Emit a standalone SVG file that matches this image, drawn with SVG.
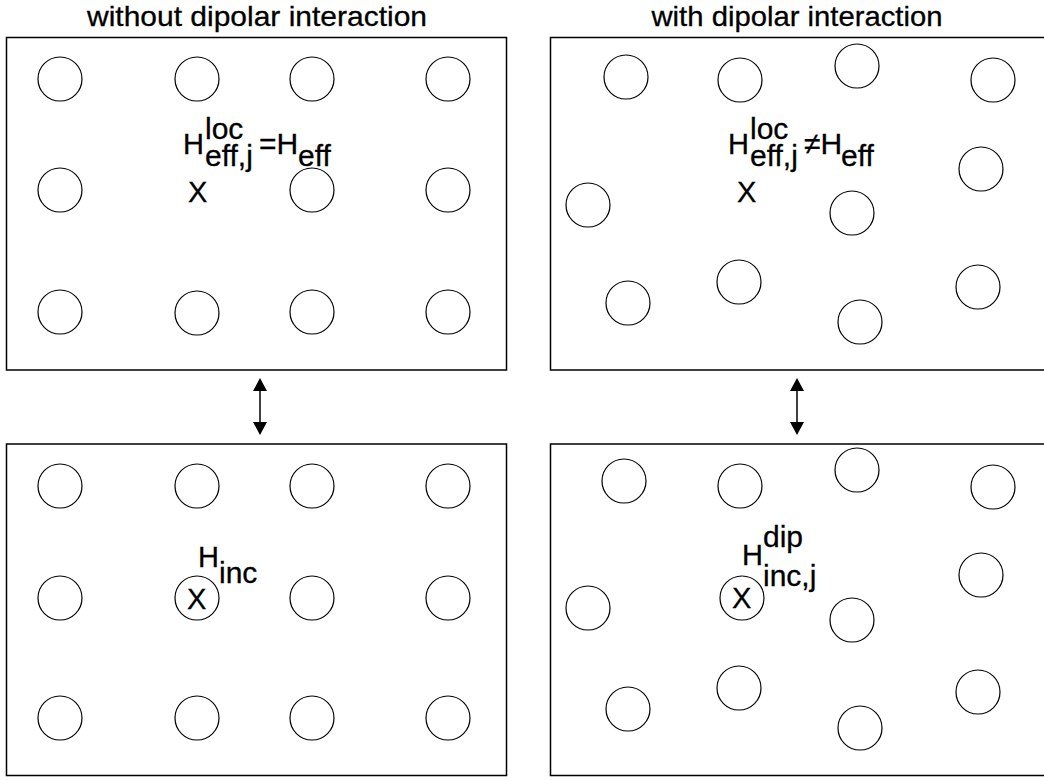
<svg xmlns="http://www.w3.org/2000/svg" width="1044" height="780" viewBox="0 0 1044 780">
<style>
.panel{fill:#fff;stroke:#000;stroke-width:1.5}
.c{fill:none;stroke:#000;stroke-width:1.2}
text{font-family:"Liberation Sans",Arial,sans-serif;fill:#000;stroke:#000;stroke-width:0.3}
.t{font-size:28px}
.l{font-size:30px}
.h{font-size:29px}
</style>
<defs>
<g id="dot"><circle r="22" class="c"/></g>
</defs>
<rect width="1044" height="780" fill="#fff"/>
<text class="t" x="257" y="26" text-anchor="middle" textLength="340" lengthAdjust="spacingAndGlyphs">without dipolar interaction</text>
<text class="t" x="797" y="26" text-anchor="middle" textLength="291" lengthAdjust="spacingAndGlyphs">with dipolar interaction</text>
<g id="panel-top-left">
<rect class="panel" x="6.5" y="37.5" width="500" height="332.5"/>
<use href="#dot" x="60" y="79"/><use href="#dot" x="197" y="79"/><use href="#dot" x="312" y="79"/><use href="#dot" x="448" y="79"/>
<use href="#dot" x="60" y="190"/><use href="#dot" x="312" y="190"/><use href="#dot" x="448" y="190"/>
<use href="#dot" x="60" y="312"/><use href="#dot" x="197" y="313"/><use href="#dot" x="312" y="312"/><use href="#dot" x="448" y="312"/>
<text class="l"><tspan class="h" x="183" y="154">H</tspan><tspan x="205" y="139">loc</tspan><tspan x="205" y="166">eff,j</tspan><tspan x="259" y="154">=H</tspan><tspan x="298" y="166">eff</tspan></text>
<text class="h" x="188" y="202">X</text>
</g>
<g id="panel-top-right">
<rect class="panel" x="550.5" y="37.5" width="500" height="332.5"/>
<use href="#dot" x="626" y="77"/><use href="#dot" x="740" y="80"/><use href="#dot" x="857" y="66"/><use href="#dot" x="993" y="80"/>
<use href="#dot" x="981" y="169"/><use href="#dot" x="588" y="205"/><use href="#dot" x="852" y="213"/>
<use href="#dot" x="739" y="282"/><use href="#dot" x="628" y="303"/><use href="#dot" x="978" y="287"/><use href="#dot" x="860" y="322"/>
<text class="l"><tspan class="h" x="728" y="154">H</tspan><tspan x="750" y="139">loc</tspan><tspan x="750" y="166">eff,j</tspan><tspan x="804" y="154">≠H</tspan><tspan x="841" y="166">eff</tspan></text>
<text class="h" x="737" y="202">X</text>
</g>
<g id="panel-bottom-left">
<rect class="panel" x="6.5" y="444" width="500" height="331.5"/>
<use href="#dot" x="60" y="486"/><use href="#dot" x="197" y="486"/><use href="#dot" x="312" y="486"/><use href="#dot" x="448" y="486"/>
<use href="#dot" x="60" y="598"/><use href="#dot" x="312" y="598"/><use href="#dot" x="448" y="598"/>
<use href="#dot" x="60" y="718"/><use href="#dot" x="197" y="718"/><use href="#dot" x="312" y="718"/><use href="#dot" x="448" y="718"/>
<use href="#dot" x="197" y="598"/>
<text class="l"><tspan class="h" x="198" y="567">H</tspan><tspan x="219" y="583">inc</tspan></text>
<text class="h" x="187" y="609">X</text>
</g>
<g id="panel-bottom-right">
<rect class="panel" x="550.5" y="444" width="500" height="331.5"/>
<use href="#dot" x="624" y="481"/><use href="#dot" x="740" y="486"/><use href="#dot" x="857" y="470"/><use href="#dot" x="993" y="487"/>
<use href="#dot" x="981" y="575"/><use href="#dot" x="588" y="608"/><use href="#dot" x="852" y="620"/>
<use href="#dot" x="739" y="688"/><use href="#dot" x="628" y="709"/><use href="#dot" x="978" y="692"/><use href="#dot" x="860" y="728"/>
<use href="#dot" x="742" y="598"/>
<text class="l"><tspan class="h" x="742" y="565">H</tspan><tspan x="763" y="547">dip</tspan><tspan x="763" y="586">inc,j</tspan></text>
<text class="h" x="732" y="608">X</text>
</g>
<g id="connectors" stroke="#000" stroke-width="1.5" fill="#000">
<line x1="260" y1="388" x2="260" y2="425"/>
<polygon points="260,378 267,391 253,391" stroke="none"/>
<polygon points="260,435 267,422 253,422" stroke="none"/>
<line x1="797" y1="388" x2="797" y2="425"/>
<polygon points="797,378 804,391 790,391" stroke="none"/>
<polygon points="797,435 804,422 790,422" stroke="none"/>
</g>
</svg>
